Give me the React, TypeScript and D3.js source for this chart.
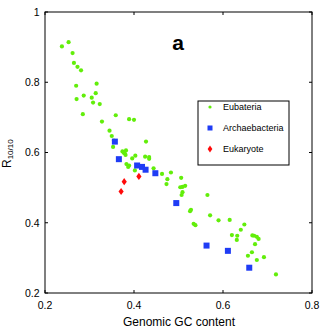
import React from "react";
import * as d3 from "d3";

// values: [GC content, R10/10]
const eubacteria: [number, number][] = [
  [0.238, 0.902], [0.253, 0.914], [0.262, 0.883], [0.265, 0.855], [0.273, 0.844],
  [0.281, 0.834], [0.27, 0.79], [0.316, 0.796], [0.287, 0.762], [0.271, 0.752],
  [0.314, 0.769], [0.305, 0.756], [0.308, 0.742], [0.323, 0.738], [0.285, 0.709],
  [0.328, 0.688], [0.359, 0.706], [0.389, 0.695], [0.4, 0.693], [0.345, 0.662],
  [0.35, 0.647], [0.355, 0.634], [0.353, 0.616], [0.427, 0.631], [0.374, 0.603],
  [0.382, 0.606], [0.379, 0.598], [0.381, 0.593], [0.377, 0.599], [0.396, 0.583],
  [0.403, 0.591], [0.425, 0.588], [0.434, 0.587], [0.434, 0.582], [0.383, 0.567],
  [0.389, 0.563], [0.387, 0.559], [0.402, 0.549], [0.444, 0.555], [0.463, 0.539],
  [0.483, 0.543], [0.475, 0.524], [0.473, 0.51], [0.506, 0.528], [0.504, 0.501],
  [0.509, 0.502], [0.515, 0.505], [0.509, 0.487], [0.507, 0.479], [0.565, 0.479],
  [0.528, 0.437], [0.526, 0.433], [0.571, 0.421], [0.534, 0.397], [0.538, 0.393],
  [0.59, 0.407], [0.615, 0.408], [0.648, 0.395], [0.64, 0.38], [0.62, 0.365],
  [0.632, 0.363], [0.631, 0.351], [0.666, 0.364], [0.67, 0.363], [0.676, 0.36],
  [0.68, 0.354], [0.672, 0.339], [0.665, 0.316], [0.656, 0.306], [0.676, 0.294],
  [0.692, 0.302], [0.719, 0.253],
];

const archaebacteria: [number, number][] = [
  [0.357, 0.631], [0.366, 0.581], [0.407, 0.563], [0.418, 0.559], [0.426, 0.551],
  [0.448, 0.541], [0.495, 0.456], [0.563, 0.335], [0.611, 0.32], [0.659, 0.272],
];

const eukaryote: [number, number][] = [
  [0.378, 0.517], [0.411, 0.532], [0.371, 0.489],
];

const xTicks = [0.2, 0.4, 0.6, 0.8];
const yTicks = [0.2, 0.4, 0.6, 0.8, 1];
const legendLabels = ["Eubateria", "Archaebacteria", "Eukaryote"];

const GREEN = "#62ee0a";
const BLUE = "#1f3cf5";
const RED = "#ff0a0a";
const FONT = "'Liberation Sans', Arial, Helvetica, sans-serif";

export default function App() {
  const width = 327;
  const height = 332;
  const m = { left: 45, right: 15, top: 12, bottom: 39 };

  const x = d3.scaleLinear().domain([0.2, 0.8]).range([m.left, width - m.right]);
  const y = d3.scaleLinear().domain([0.2, 1]).range([height - m.bottom, m.top]);

  const [x0, x1] = x.range();
  const [y0, y1] = y.range();
  const tick = 3;

  const diamond = (cx: number, cy: number, w = 2.6, h = 3.6) =>
    `M${cx},${cy - h}L${cx + w},${cy}L${cx},${cy + h}L${cx - w},${cy}Z`;

  // legend box
  const lg = { x: 198, y: 101, w: 91, h: 64 };
  const rowY = [107, 128, 149];

  return (
    <div style={{ position: "absolute", left: 0, top: 0 }}>
      <svg width={width} height={height} style={{ display: "block", background: "#fff" }}>
        <rect x={x0} y={y1} width={x1 - x0} height={y0 - y1} fill="none" stroke="#000" strokeWidth={1} />

        {xTicks.map((t) => (
          <g key={"x" + t}>
            <line x1={x(t)} x2={x(t)} y1={y0} y2={y0 - tick} stroke="#000" />
            <line x1={x(t)} x2={x(t)} y1={y1} y2={y1 + tick} stroke="#000" />
            <text x={x(t)} y={309} textAnchor="middle" fontSize={10.5} fontFamily={FONT}>
              {t}
            </text>
          </g>
        ))}
        {yTicks.map((t) => (
          <g key={"y" + t}>
            <line x1={x0} x2={x0 + tick} y1={y(t)} y2={y(t)} stroke="#000" />
            <line x1={x1} x2={x1 - tick} y1={y(t)} y2={y(t)} stroke="#000" />
            <text x={39.5} y={y(t) + 3.8} textAnchor="end" fontSize={10.5} fontFamily={FONT}>
              {t}
            </text>
          </g>
        ))}

        <text x={179} y={326} textAnchor="middle" fontSize={12} fontFamily={FONT}>
          Genomic GC content
        </text>
        <text transform="translate(10.5,168) rotate(-90)" fontSize={12} fontFamily={FONT}>
          R
          <tspan fontSize={8} dy={2.5}>10/10</tspan>
        </text>

        <text x={178} y={50} textAnchor="middle" fontSize={21} fontWeight="bold" fontFamily={FONT}>
          a
        </text>

        {eubacteria.map(([gx, r], i) => (
          <circle key={"e" + i} cx={x(gx)} cy={y(r)} r={2.1} fill={GREEN} />
        ))}
        {archaebacteria.map(([gx, r], i) => (
          <rect key={"a" + i} x={x(gx) - 3} y={y(r) - 3} width={6} height={6} fill={BLUE} />
        ))}
        {eukaryote.map(([gx, r], i) => (
          <path key={"k" + i} d={diamond(x(gx), y(r))} fill={RED} />
        ))}

        <rect x={lg.x} y={lg.y} width={lg.w} height={lg.h} fill="#fff" stroke="#000" strokeWidth={1} />
        <circle cx={210} cy={rowY[0]} r={1.6} fill={GREEN} />
        <rect x={207.5} y={rowY[1] - 2.5} width={5} height={5} fill={BLUE} />
        <path d={diamond(210, rowY[2], 2.4, 3.4)} fill={RED} />
        {legendLabels.map((l, i) => (
          <text key={l} x={223} y={rowY[i] + 3} fontSize={9} fontFamily={FONT}>
            {l}
          </text>
        ))}
      </svg>
    </div>
  );
}
